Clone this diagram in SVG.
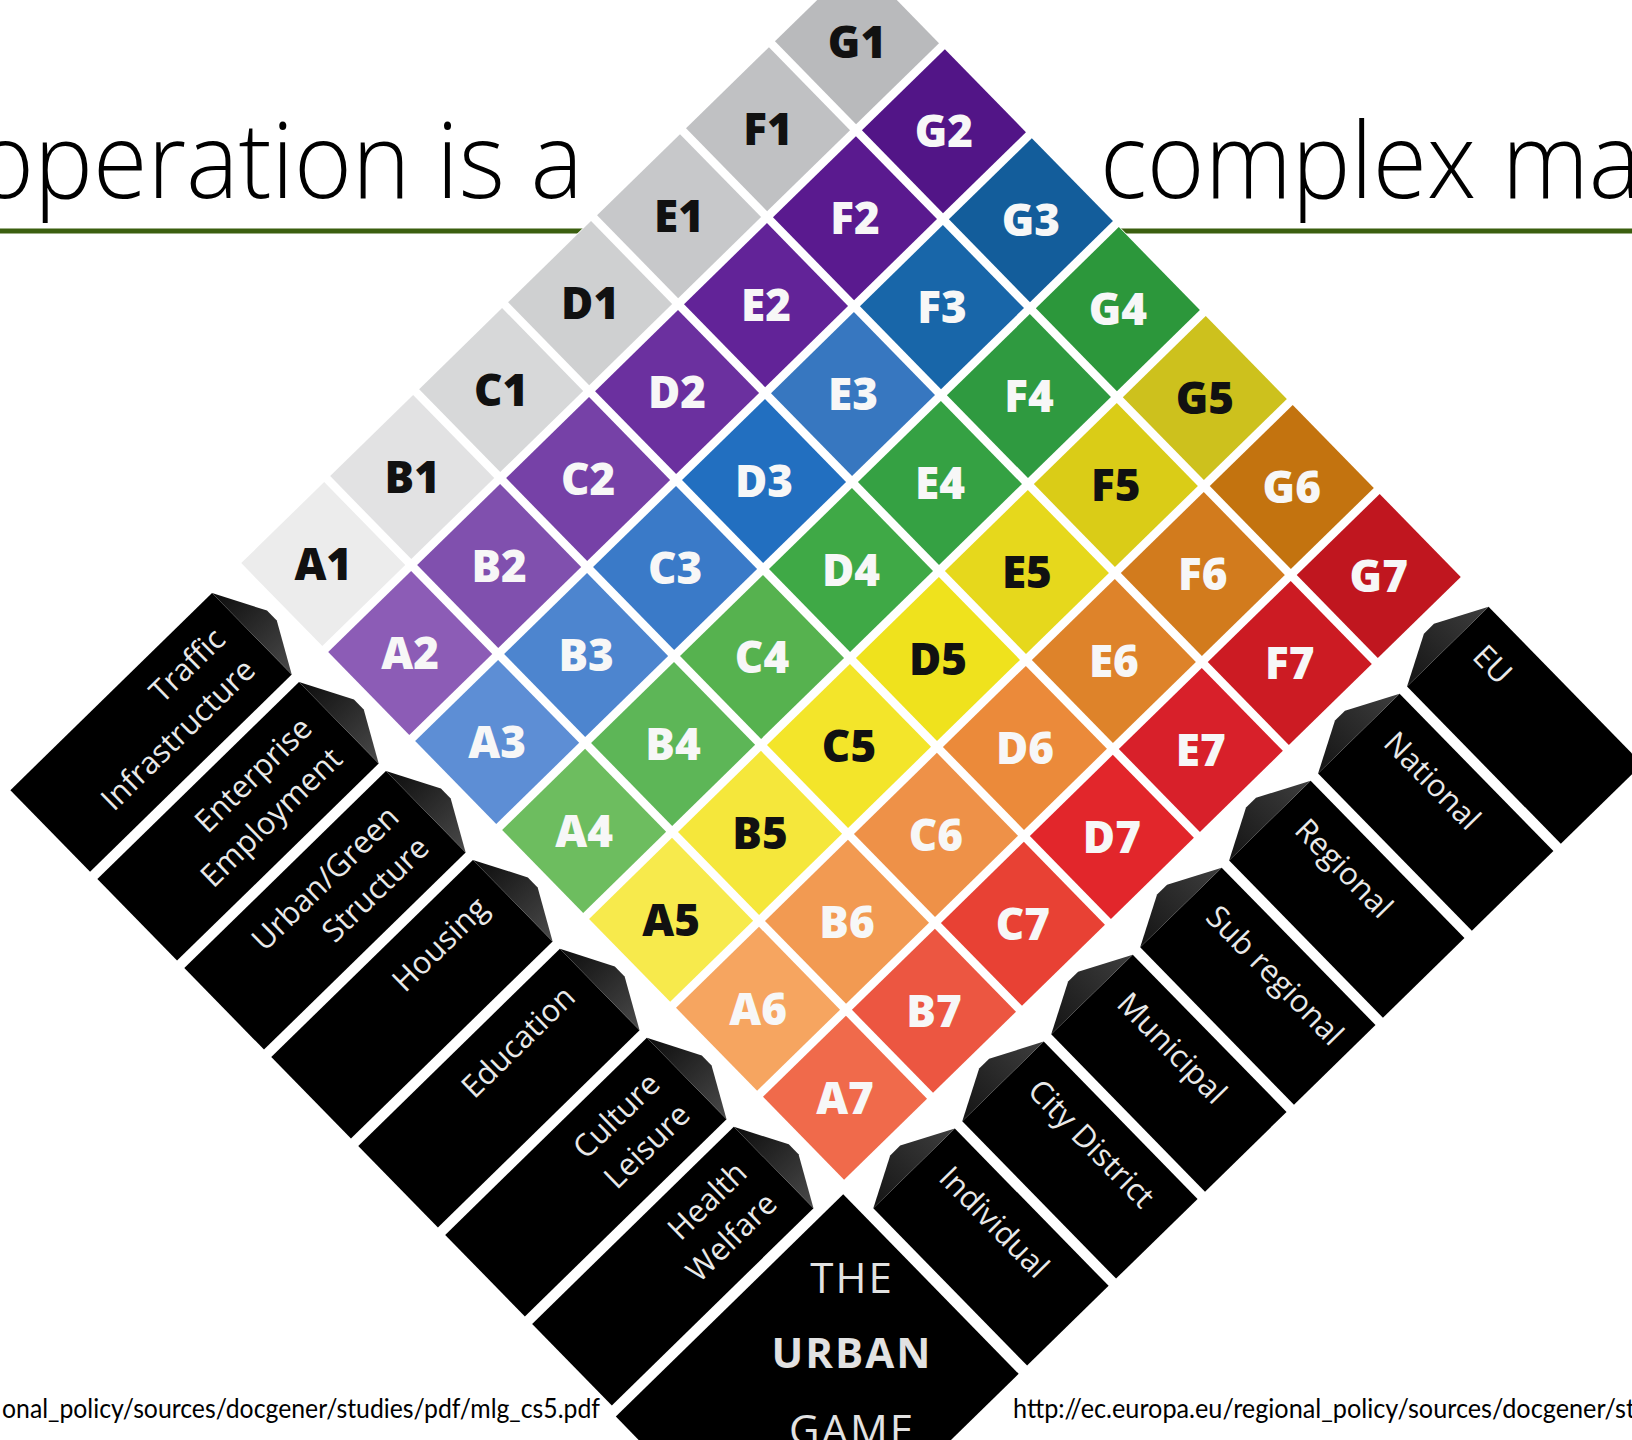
<svg xmlns="http://www.w3.org/2000/svg" width="1632" height="1440" viewBox="0 0 1632 1440">
<defs>
<style>
.title{font-family:"Open Sans","Liberation Sans",sans-serif;font-weight:300;font-size:106px;fill:#000}
.foot{font-family:"Lato","Liberation Sans",sans-serif;font-size:27px;fill:#000}
.lbl{font-family:"Open Sans","Liberation Sans",sans-serif;font-weight:800;font-size:44px;text-anchor:middle}
.lw{fill:#f7f7f7}
.lk{fill:#111111}
.bar{fill:#000000}
.capL{fill:url(#gL)}
.capR{fill:url(#gR)}
.bt{font-family:"Open Sans","Liberation Sans",sans-serif;font-size:31px;fill:#e9e9e9}
.btl{text-anchor:end}
.ug{font-family:"Open Sans","Liberation Sans",sans-serif;font-size:42px;fill:#e2e2e2;text-anchor:middle;letter-spacing:2px}
</style>
<linearGradient id="gL" x1="0" y1="0" x2="1" y2="0">
<stop offset="0" stop-color="#0c0c0c"/><stop offset="1" stop-color="#4a4a4a"/>
</linearGradient>
<linearGradient id="gR" x1="0" y1="0" x2="0" y2="1">
<stop offset="0" stop-color="#3e3e3e"/><stop offset="1" stop-color="#141414"/>
</linearGradient>
</defs>
<rect width="1632" height="1440" fill="#ffffff"/>
<line id="title-underline" x1="0" y1="231" x2="1632" y2="231" stroke="#3b5f0f" stroke-width="5"/>
<g id="diagram" transform="translate(851,570) rotate(45.65)">
<rect id="diagram-background" x="-432" y="-432" width="1124" height="1192" fill="#ffffff"/>
<g id="cells">
<g id="cell-A1"><rect x="-431.2" y="315.2" width="116" height="116" fill="#ececec"/><text class="lbl lk" transform="translate(-373.2,373.2) rotate(-45.65)" y="16">A1</text></g>
<g id="cell-B1"><rect x="-431.2" y="190.8" width="116" height="116" fill="#e2e2e3"/><text class="lbl lk" transform="translate(-373.2,248.8) rotate(-45.65)" y="16">B1</text></g>
<g id="cell-C1"><rect x="-431.2" y="66.4" width="116" height="116" fill="#d7d8d9"/><text class="lbl lk" transform="translate(-373.2,124.4) rotate(-45.65)" y="16">C1</text></g>
<g id="cell-D1"><rect x="-431.2" y="-58" width="116" height="116" fill="#cfd0d1"/><text class="lbl lk" transform="translate(-373.2,0) rotate(-45.65)" y="16">D1</text></g>
<g id="cell-E1"><rect x="-431.2" y="-182.4" width="116" height="116" fill="#c7c8ca"/><text class="lbl lk" transform="translate(-373.2,-124.4) rotate(-45.65)" y="16">E1</text></g>
<g id="cell-F1"><rect x="-431.2" y="-306.8" width="116" height="116" fill="#c0c1c3"/><text class="lbl lk" transform="translate(-373.2,-248.8) rotate(-45.65)" y="16">F1</text></g>
<g id="cell-G1"><rect x="-431.2" y="-431.2" width="116" height="116" fill="#b9babc"/><text class="lbl lk" transform="translate(-373.2,-373.2) rotate(-45.65)" y="16">G1</text></g>

<g id="cell-A2"><rect x="-306.8" y="315.2" width="116" height="116" fill="#8c5cb6"/><text class="lbl lw" transform="translate(-248.8,373.2) rotate(-45.65)" y="16">A2</text></g>
<g id="cell-B2"><rect x="-306.8" y="190.8" width="116" height="116" fill="#8050ae"/><text class="lbl lw" transform="translate(-248.8,248.8) rotate(-45.65)" y="16">B2</text></g>
<g id="cell-C2"><rect x="-306.8" y="66.4" width="116" height="116" fill="#7641a7"/><text class="lbl lw" transform="translate(-248.8,124.4) rotate(-45.65)" y="16">C2</text></g>
<g id="cell-D2"><rect x="-306.8" y="-58" width="116" height="116" fill="#6b309f"/><text class="lbl lw" transform="translate(-248.8,0) rotate(-45.65)" y="16">D2</text></g>
<g id="cell-E2"><rect x="-306.8" y="-182.4" width="116" height="116" fill="#622398"/><text class="lbl lw" transform="translate(-248.8,-124.4) rotate(-45.65)" y="16">E2</text></g>
<g id="cell-F2"><rect x="-306.8" y="-306.8" width="116" height="116" fill="#5a1a8f"/><text class="lbl lw" transform="translate(-248.8,-248.8) rotate(-45.65)" y="16">F2</text></g>
<g id="cell-G2"><rect x="-306.8" y="-431.2" width="116" height="116" fill="#521587"/><text class="lbl lw" transform="translate(-248.8,-373.2) rotate(-45.65)" y="16">G2</text></g>

<g id="cell-A3"><rect x="-182.4" y="315.2" width="116" height="116" fill="#5d8ed5"/><text class="lbl lw" transform="translate(-124.4,373.2) rotate(-45.65)" y="16">A3</text></g>
<g id="cell-B3"><rect x="-182.4" y="190.8" width="116" height="116" fill="#4d85cf"/><text class="lbl lw" transform="translate(-124.4,248.8) rotate(-45.65)" y="16">B3</text></g>
<g id="cell-C3"><rect x="-182.4" y="66.4" width="116" height="116" fill="#3a7ac8"/><text class="lbl lw" transform="translate(-124.4,124.4) rotate(-45.65)" y="16">C3</text></g>
<g id="cell-D3"><rect x="-182.4" y="-58" width="116" height="116" fill="#226fc0"/><text class="lbl lw" transform="translate(-124.4,0) rotate(-45.65)" y="16">D3</text></g>
<g id="cell-E3"><rect x="-182.4" y="-182.4" width="116" height="116" fill="#3777c0"/><text class="lbl lw" transform="translate(-124.4,-124.4) rotate(-45.65)" y="16">E3</text></g>
<g id="cell-F3"><rect x="-182.4" y="-306.8" width="116" height="116" fill="#1866a9"/><text class="lbl lw" transform="translate(-124.4,-248.8) rotate(-45.65)" y="16">F3</text></g>
<g id="cell-G3"><rect x="-182.4" y="-431.2" width="116" height="116" fill="#135d9b"/><text class="lbl lw" transform="translate(-124.4,-373.2) rotate(-45.65)" y="16">G3</text></g>

<g id="cell-A4"><rect x="-58" y="315.2" width="116" height="116" fill="#6dbd5f"/><text class="lbl lw" transform="translate(0,373.2) rotate(-45.65)" y="16">A4</text></g>
<g id="cell-B4"><rect x="-58" y="190.8" width="116" height="116" fill="#5db657"/><text class="lbl lw" transform="translate(0,248.8) rotate(-45.65)" y="16">B4</text></g>
<g id="cell-C4"><rect x="-58" y="66.4" width="116" height="116" fill="#56b24f"/><text class="lbl lw" transform="translate(0,124.4) rotate(-45.65)" y="16">C4</text></g>
<g id="cell-D4"><rect x="-58" y="-58" width="116" height="116" fill="#3fa946"/><text class="lbl lw" transform="translate(0,0) rotate(-45.65)" y="16">D4</text></g>
<g id="cell-E4"><rect x="-58" y="-182.4" width="116" height="116" fill="#35a143"/><text class="lbl lw" transform="translate(0,-124.4) rotate(-45.65)" y="16">E4</text></g>
<g id="cell-F4"><rect x="-58" y="-306.8" width="116" height="116" fill="#2f9a40"/><text class="lbl lw" transform="translate(0,-248.8) rotate(-45.65)" y="16">F4</text></g>
<g id="cell-G4"><rect x="-58" y="-431.2" width="116" height="116" fill="#2c973b"/><text class="lbl lw" transform="translate(0,-373.2) rotate(-45.65)" y="16">G4</text></g>

<g id="cell-A5"><rect x="66.4" y="315.2" width="116" height="116" fill="#f7ea4c"/><text class="lbl lk" transform="translate(124.4,373.2) rotate(-45.65)" y="16">A5</text></g>
<g id="cell-B5"><rect x="66.4" y="190.8" width="116" height="116" fill="#f5e73b"/><text class="lbl lk" transform="translate(124.4,248.8) rotate(-45.65)" y="16">B5</text></g>
<g id="cell-C5"><rect x="66.4" y="66.4" width="116" height="116" fill="#f3e52a"/><text class="lbl lk" transform="translate(124.4,124.4) rotate(-45.65)" y="16">C5</text></g>
<g id="cell-D5"><rect x="66.4" y="-58" width="116" height="116" fill="#efe21d"/><text class="lbl lk" transform="translate(124.4,0) rotate(-45.65)" y="16">D5</text></g>
<g id="cell-E5"><rect x="66.4" y="-182.4" width="116" height="116" fill="#e6d81c"/><text class="lbl lk" transform="translate(124.4,-124.4) rotate(-45.65)" y="16">E5</text></g>
<g id="cell-F5"><rect x="66.4" y="-306.8" width="116" height="116" fill="#dacc17"/><text class="lbl lk" transform="translate(124.4,-248.8) rotate(-45.65)" y="16">F5</text></g>
<g id="cell-G5"><rect x="66.4" y="-431.2" width="116" height="116" fill="#cdc11d"/><text class="lbl lk" transform="translate(124.4,-373.2) rotate(-45.65)" y="16">G5</text></g>

<g id="cell-A6"><rect x="190.8" y="315.2" width="116" height="116" fill="#f6a560"/><text class="lbl lw" transform="translate(248.8,373.2) rotate(-45.65)" y="16">A6</text></g>
<g id="cell-B6"><rect x="190.8" y="190.8" width="116" height="116" fill="#f29a52"/><text class="lbl lw" transform="translate(248.8,248.8) rotate(-45.65)" y="16">B6</text></g>
<g id="cell-C6"><rect x="190.8" y="66.4" width="116" height="116" fill="#ee9148"/><text class="lbl lw" transform="translate(248.8,124.4) rotate(-45.65)" y="16">C6</text></g>
<g id="cell-D6"><rect x="190.8" y="-58" width="116" height="116" fill="#eb8a3a"/><text class="lbl lw" transform="translate(248.8,0) rotate(-45.65)" y="16">D6</text></g>
<g id="cell-E6"><rect x="190.8" y="-182.4" width="116" height="116" fill="#de832a"/><text class="lbl lw" transform="translate(248.8,-124.4) rotate(-45.65)" y="16">E6</text></g>
<g id="cell-F6"><rect x="190.8" y="-306.8" width="116" height="116" fill="#d27b1d"/><text class="lbl lw" transform="translate(248.8,-248.8) rotate(-45.65)" y="16">F6</text></g>
<g id="cell-G6"><rect x="190.8" y="-431.2" width="116" height="116" fill="#c3730f"/><text class="lbl lw" transform="translate(248.8,-373.2) rotate(-45.65)" y="16">G6</text></g>

<g id="cell-A7"><rect x="315.2" y="315.2" width="116" height="116" fill="#f06a4b"/><text class="lbl lw" transform="translate(373.2,373.2) rotate(-45.65)" y="16">A7</text></g>
<g id="cell-B7"><rect x="315.2" y="190.8" width="116" height="116" fill="#ec5641"/><text class="lbl lw" transform="translate(373.2,248.8) rotate(-45.65)" y="16">B7</text></g>
<g id="cell-C7"><rect x="315.2" y="66.4" width="116" height="116" fill="#e84134"/><text class="lbl lw" transform="translate(373.2,124.4) rotate(-45.65)" y="16">C7</text></g>
<g id="cell-D7"><rect x="315.2" y="-58" width="116" height="116" fill="#e2262b"/><text class="lbl lw" transform="translate(373.2,0) rotate(-45.65)" y="16">D7</text></g>
<g id="cell-E7"><rect x="315.2" y="-182.4" width="116" height="116" fill="#d8202a"/><text class="lbl lw" transform="translate(373.2,-124.4) rotate(-45.65)" y="16">E7</text></g>
<g id="cell-F7"><rect x="315.2" y="-306.8" width="116" height="116" fill="#cc1b23"/><text class="lbl lw" transform="translate(373.2,-248.8) rotate(-45.65)" y="16">F7</text></g>
<g id="cell-G7"><rect x="315.2" y="-431.2" width="116" height="116" fill="#c0161f"/><text class="lbl lw" transform="translate(373.2,-373.2) rotate(-45.65)" y="16">G7</text></g>
</g>

<g id="sector-bars">
<g id="bar-traffic"><rect class="bar" x="-430.2" y="473" width="114" height="282"/><polygon class="capL" points="-430.2,473 -379.2,446 -365.2,446 -316.2,473"/><text class="bt btl" transform="translate(-385.2,496) rotate(-90)"><tspan x="0" y="0">Traffic</tspan><tspan x="0" y="43">Infrastructure</tspan></text></g>
<g id="bar-enterprise"><rect class="bar" x="-305.8" y="473" width="114" height="282"/><polygon class="capL" points="-305.8,473 -254.8,446 -240.8,446 -191.8,473"/><text class="bt btl" transform="translate(-260.8,496) rotate(-90)"><tspan x="0" y="0">Enterprise</tspan><tspan x="0" y="43">Employment</tspan></text></g>
<g id="bar-urban-green"><rect class="bar" x="-181.4" y="473" width="114" height="282"/><polygon class="capL" points="-181.4,473 -130.4,446 -116.4,446 -67.4,473"/><text class="bt btl" transform="translate(-136.4,496) rotate(-90)"><tspan x="0" y="0">Urban/Green</tspan><tspan x="0" y="43">Structure</tspan></text></g>
<g id="bar-housing"><rect class="bar" x="-57" y="473" width="114" height="282"/><polygon class="capL" points="-57,473 -6,446 8,446 57,473"/><text class="bt btl" transform="translate(-9,496) rotate(-90)">Housing</text></g>
<g id="bar-education"><rect class="bar" x="67.4" y="473" width="114" height="282"/><polygon class="capL" points="67.4,473 118.4,446 132.4,446 181.4,473"/><text class="bt btl" transform="translate(115.4,496) rotate(-90)">Education</text></g>
<g id="bar-culture"><rect class="bar" x="191.8" y="473" width="114" height="282"/><polygon class="capL" points="191.8,473 242.8,446 256.8,446 305.8,473"/><text class="bt btl" transform="translate(236.8,496) rotate(-90)"><tspan x="0" y="0">Culture</tspan><tspan x="0" y="43">Leisure</tspan></text></g>
<g id="bar-health"><rect class="bar" x="316.2" y="473" width="114" height="282"/><polygon class="capL" points="316.2,473 367.2,446 381.2,446 430.2,473"/><text class="bt btl" transform="translate(361.2,496) rotate(-90)"><tspan x="0" y="0">Health</tspan><tspan x="0" y="43">Welfare</tspan></text></g>
</g>

<g id="level-bars">
<g id="bar-eu"><rect class="bar" x="472" y="-430.2" width="220" height="114"/><polygon class="capR" points="472,-430.2 446,-379.2 446,-365.2 472,-316.2"/><text class="bt" x="496" y="-382">EU</text></g>
<g id="bar-national"><rect class="bar" x="472" y="-305.8" width="220" height="114"/><polygon class="capR" points="472,-305.8 446,-254.8 446,-240.8 472,-191.8"/><text class="bt" x="496" y="-257.6">National</text></g>
<g id="bar-regional"><rect class="bar" x="472" y="-181.4" width="220" height="114"/><polygon class="capR" points="472,-181.4 446,-130.4 446,-116.4 472,-67.4"/><text class="bt" x="496" y="-133.2">Regional</text></g>
<g id="bar-subregional"><rect class="bar" x="472" y="-57" width="220" height="114"/><polygon class="capR" points="472,-57 446,-6 446,8 472,57"/><text class="bt" x="496" y="-9">Sub regional</text></g>
<g id="bar-municipal"><rect class="bar" x="472" y="67.4" width="220" height="114"/><polygon class="capR" points="472,67.4 446,118.4 446,132.4 472,181.4"/><text class="bt" x="496" y="115.4">Municipal</text></g>
<g id="bar-city-district"><rect class="bar" x="472" y="191.8" width="220" height="114"/><polygon class="capR" points="472,191.8 446,242.8 446,256.8 472,305.8"/><text class="bt" x="496" y="239.8">City District</text></g>
<g id="bar-individual"><rect class="bar" x="472" y="316.2" width="220" height="114"/><polygon class="capR" points="472,316.2 446,367.2 446,381.2 472,430.2"/><text class="bt" x="496" y="364.2">Individual</text></g>
</g>

<rect id="urban-game-box" class="bar" x="441" y="442" width="251" height="318"/>
</g>

<g id="urban-game-label">
<text class="ug" x="852" y="1293">THE</text>
<text class="ug" x="852" y="1368" font-weight="700">URBAN</text>
<text class="ug" x="852" y="1445">GAME</text>
</g>

<g id="title">
<text class="title" x="-24" y="198" textLength="607" lengthAdjust="spacingAndGlyphs">operation is a</text>
<text class="title" x="1100" y="198" textLength="541" lengthAdjust="spacingAndGlyphs">complex ma</text>
</g>

<g id="footer">
<text class="foot" x="2" y="1418" textLength="598" lengthAdjust="spacingAndGlyphs">onal_policy/sources/docgener/studies/pdf/mlg_cs5.pdf</text>
<text class="foot" x="1013" y="1418" textLength="622" lengthAdjust="spacingAndGlyphs">http://ec.europa.eu/regional_policy/sources/docgener/st</text>
</g>
</svg>
